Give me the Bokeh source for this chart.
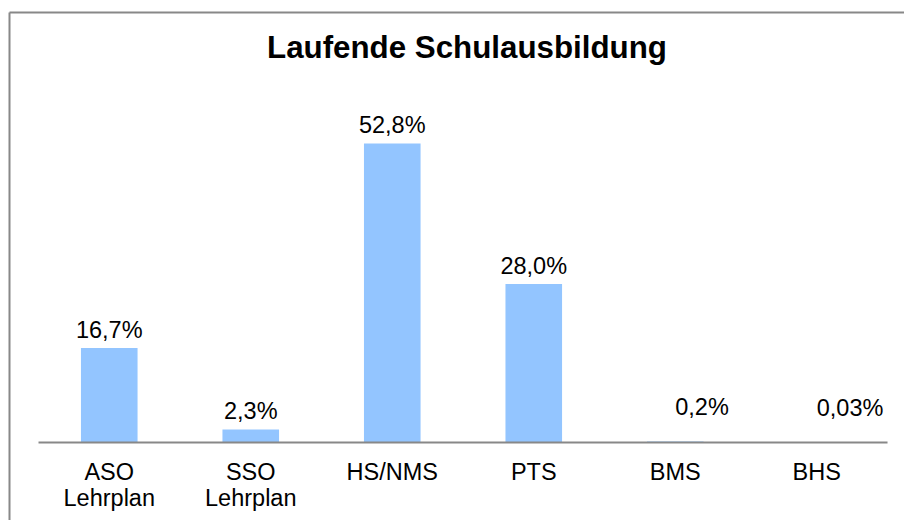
import numpy as np
from bokeh.plotting import figure
from bokeh.models import ColumnDataSource, Range1d, Label, LinearAxis, FixedTicker
from bokeh.core.properties import value
from bokeh.embed import file_html
from bokeh.resources import INLINE

# ---- data ----
categories = ["ASO\nLehrplan", "SSO\nLehrplan", "HS/NMS", "PTS", "BMS", "BHS"]
values = [16.7, 2.3, 52.8, 28.0, 0.2, 0.03]
value_labels = ["16,7%", "2,3%", "52,8%", "28,0%", "0,2%", "0,03%"]
title_text = "Laufende Schulausbildung"

FONT = "Liberation Sans"
BAR_COLOR = "#93C5FF"
GRAY = "#888888"

n = len(categories)
pos = np.arange(n)  # category slots on the x scale

p = figure(
    width=904, height=520,
    x_range=Range1d(-0.705, 5.62),
    y_range=Range1d(-13.77, 75.93),
    output_backend="svg", toolbar_location=None,
    x_axis_location=None,
    min_border_left=9, min_border_right=0, min_border_top=12, min_border_bottom=0,
)
p.outline_line_color = None
p.background_fill_color = "white"
p.border_fill_color = "white"
p.xgrid.visible = False
p.ygrid.visible = False

# left border drawn by the (tick-less) y axis line
ya = p.yaxis[0]
ya.ticker = FixedTicker(ticks=[])
ya.major_label_standoff = 0
ya.major_tick_line_color = None
ya.minor_tick_line_color = None
ya.axis_line_color = GRAY
ya.axis_line_width = 2

# top border drawn by a tick-less axis above
top_axis = LinearAxis(ticker=FixedTicker(ticks=[]), major_label_standoff=0,
                      major_tick_line_color=None, minor_tick_line_color=None,
                      axis_line_color=GRAY, axis_line_width=2)
p.add_layout(top_axis, "above")

src = ColumnDataSource(dict(x=pos, cat=categories, val=values, lab=value_labels))
p.vbar(x="x", top="val", bottom=0, width=0.4, source=src, fill_color=BAR_COLOR, line_color=None)

# category baseline spanning all category slots
p.segment(x0=[pos[0] - 0.5], x1=[pos[-1] + 0.5], y0=[0], y1=[0],
          line_color=GRAY, line_width=2)

# category labels
p.text(x="x", y=0, text="cat", source=src, text_align="center", text_baseline="top",
       y_offset=16, text_font=value(FONT), text_font_size="23.5px", text_color="black",
       text_line_height=1.03)

big = [i for i, v in enumerate(values) if v >= 1]
small = [i for i, v in enumerate(values) if v < 1]
src_big = ColumnDataSource(dict(x=pos[big], val=[values[i] for i in big],
                                lab=[value_labels[i] for i in big]))
src_small = ColumnDataSource(dict(x=pos[small], val=[values[i] for i in small],
                                  lab=[value_labels[i] for i in small]))
p.text(x="x", y="val", text="lab", source=src_big, text_align="center",
       text_baseline="alphabetic", y_offset=-18, text_font=value(FONT),
       text_font_size="23.5px", text_color="black")
p.text(x="x", y="val", text="lab", source=src_small, text_align="left",
       text_baseline="alphabetic", y_offset=-34, text_font=value(FONT),
       text_font_size="23.5px", text_color="black")

p.add_layout(Label(x=2.528, y=69.75, text=title_text, text_align="center", text_baseline="alphabetic",
                   text_font=FONT, text_font_size="31.3px", text_font_style="bold", text_color="black"))

open("out.html", "w").write(file_html(p, INLINE))
